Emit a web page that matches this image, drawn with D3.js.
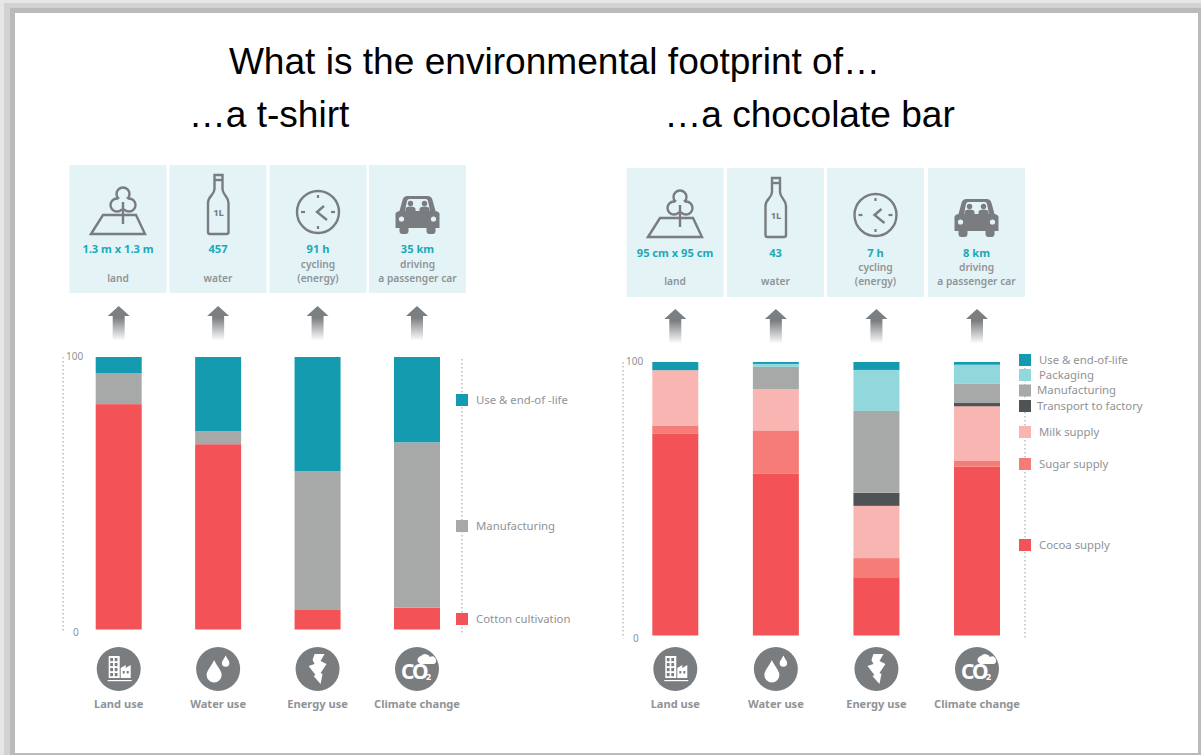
<!DOCTYPE html>
<html><head><meta charset="utf-8">
<script src="https://cdn.jsdelivr.net/npm/d3@7"></script>
<style>html,body{margin:0;padding:0;background:#fff}svg{display:block}text{font-family:"Noto Sans",sans-serif}</style>
</head><body><svg id="c" width="1201" height="755"></svg>
<script>
const impactCategories = ["Land use","Water use","Energy use","Climate change"];
const tshirtStages = ["Cotton cultivation","Manufacturing","Use & end-of -life"];
const tshirtCotton = [82.7,68,7.4,8];
const tshirtManufacturing = [11.4,4.8,50.7,60.7];
const tshirtUse = [5.9,27.2,41.9,31.3];
const barStages = ["Cocoa supply","Sugar supply","Milk supply","Transport to factory","Manufacturing","Packaging","Use & end-of-life"];
const barCocoa = [73.9,59.1,21.3,61.7];
const barSugar = [2.9,15.9,7,2.3];
const barMilk = [20.2,15,19.1,19.8];
const barTransport = [0,0,4.8,1.2];
const barManufacturing = [0,8.2,29.9,7];
const barPackaging = [0,1.1,15,7];
const barUse = [3,0.7,2.9,1];
const tshirtEquivalents = [["1.3 m x 1.3 m","","land"],["457","","water"],["91 h","cycling","(energy)"],["35 km","driving","a passenger car"]];
const barEquivalents = [["95 cm x 95 cm","","land"],["43","","water"],["7 h","cycling","(energy)"],["8 km","driving","a passenger car"]];
const axisTicks = [0,100];
const titleMain = "What is the environmental footprint of…";
const titleLeft = "…a t-shirt";
const titleRight = "…a chocolate bar";

const stageColors = {"Cotton cultivation":"#f35356","Cocoa supply":"#f35356","Sugar supply":"#f67c77","Milk supply":"#f8b5b1",
 "Transport to factory":"#505354","Manufacturing":"#a7a9a9","Packaging":"#92d7dc","Use & end-of -life":"#149baf","Use & end-of-life":"#149baf"};
const ICON="#7a7d7f", TXT="#909396", TEAL="#1ba9b8", PANEL="#e3f3f6";
const svg=d3.select("#c");
const defs=svg.append("defs");
const grad=defs.append("linearGradient").attr("id","arrowFade").attr("x1",0).attr("x2",0).attr("y1",0).attr("y2",1);
grad.append("stop").attr("offset","35%").attr("stop-color","#7c7f82");
grad.append("stop").attr("offset","100%").attr("stop-color","#7c7f82").attr("stop-opacity",0.03);

// frame shadow
[["#e6e6e6",0,0,1201,755],["#d2d2d2",4,3,1197,752],["#bababa",10,8,1191,747]].forEach(r=>
 svg.append("rect").attr("x",r[1]).attr("y",r[2]).attr("width",r[3]).attr("height",r[4]).attr("fill",r[0]));
svg.append("rect").attr("x",15).attr("y",13).attr("width",1183).attr("height",740).attr("fill","#fff");

const titleStyle=s=>s.attr("text-anchor","middle").style("font-family","'Liberation Sans'").style("font-size","37.1px").attr("fill","#000");
svg.append("text").attr("x",554.5).attr("y",74).call(titleStyle).text(titleMain);
svg.append("text").attr("x",269).attr("y",127).call(titleStyle).text(titleLeft);
svg.append("text").attr("x",809.5).attr("y",127).call(titleStyle).text(titleRight);

function treeIcon(g,b){
 g.append("path").attr("d",`M-27 ${b}L-15 ${b-19}H18L27 ${b}Z`).attr("fill","none").attr("stroke",ICON).attr("stroke-width",2.4);
 const t=g.append("g").attr("fill",PANEL).attr("stroke",ICON).attr("stroke-width",2.4);
 [[5,b-40,6.5],[-1,b-29,6.5],[11,b-29,6.5]].forEach(c=>t.append("circle").attr("cx",c[0]).attr("cy",c[1]).attr("r",c[2]));
 g.append("circle").attr("cx",5).attr("cy",b-31).attr("r",6).attr("fill",PANEL);
 g.append("line").attr("x1",5).attr("x2",5).attr("y1",b-32).attr("y2",b-10).attr("stroke",ICON).attr("stroke-width",2.4);
}
function bottleIcon(g,b){
 g.append("path").attr("d",`M-3.5 ${b-59}H4.5V${b-45}C4.5 ${b-39} 10.5 ${b-38} 10.5 ${b-31}V${b-2}Q10.5 ${b} 8.5 ${b}H-8Q-10 ${b} -10 ${b-2}V${b-31}C-10 ${b-38} -3.5 ${b-39} -3.5 ${b-45}Z`).attr("fill","none").attr("stroke",ICON).attr("stroke-width",2.4);
 g.append("line").attr("x1",-3.5).attr("x2",4.5).attr("y1",b-54).attr("y2",b-54).attr("stroke",ICON).attr("stroke-width",2.4);
 g.append("text").attr("y",b-18).attr("x",0.5).attr("text-anchor","middle").attr("fill",ICON).style("font-size","9.5px").style("font-weight",700).text("1L");
}
function clockIcon(g,b){
 const cy=b-22;
 g.append("circle").attr("cy",cy).attr("r",21).attr("fill","none").attr("stroke",ICON).attr("stroke-width",2.4);
 [[0,-17,0,-14],[0,14,0,17],[-17,0,-13,0],[13,0,17,0]].forEach(l=>g.append("line").attr("x1",l[0]).attr("y1",cy+l[1]).attr("x2",l[2]).attr("y2",cy+l[3]).attr("stroke",ICON).attr("stroke-width",2.2));
 g.append("path").attr("d",`M6 ${cy-6}L-1 ${cy}L9 ${cy+8}`).attr("fill","none").attr("stroke",ICON).attr("stroke-width",2.4);
}
function carIcon(g,b){
 g.append("path").attr("d",`M-22 ${b-6}V${b-20}Q-22 ${b-22} -18 ${b-23}L-15 ${b-34}Q-14 ${b-38} -10 ${b-38}H10Q14 ${b-38} 15 ${b-34}L18 ${b-23}Q22 ${b-22} 22 ${b-20}V${b-6}H18V${b-3}Q18 ${b} 15 ${b}H12Q9 ${b} 9 ${b-3}V${b-6}H-9V${b-3}Q-9 ${b} -12 ${b}H-15Q-18 ${b} -18 ${b-3}V${b-6}Z`).attr("fill",ICON);
 g.append("path").attr("d",`M-12.5 ${b-23}L-10.5 ${b-33}Q-10 ${b-35} -8 ${b-35}H8Q10 ${b-35} 10.5 ${b-33}L12.5 ${b-23}Z`).attr("fill",PANEL);
 [-7,7].forEach(x=>{
  g.append("circle").attr("cx",x).attr("cy",b-30.5).attr("r",2.7).attr("fill",ICON);
  g.append("path").attr("d",`M${x-5} ${b-23}V${b-25}Q${x-5} ${b-27.5} ${x} ${b-27.5}Q${x+5} ${b-27.5} ${x+5} ${b-25}V${b-23}Z`).attr("fill",ICON);
 });
 [-16,16].forEach(x=>g.append("circle").attr("cx",x).attr("cy",b-15).attr("r",2.6).attr("fill",PANEL));
}
const topIcons=[treeIcon,bottleIcon,clockIcon,carIcon];

function buildingIcon(g){
 g.append("rect").attr("x",-10).attr("y",-13).attr("width",11).attr("height",22).attr("fill","#fff");
 g.append("path").attr("d","M2 9V-1L7 -4V-1L12 -4V9Z").attr("fill","#fff");
 g.append("rect").attr("x",-11).attr("y",11).attr("width",24).attr("height",1.2).attr("fill","#fff");
 const w=g.append("g").attr("fill",ICON);
 for(let r=0;r<4;r++)for(let c=0;c<2;c++)w.append("rect").attr("x",-8.5+c*4.5).attr("y",-11+r*5).attr("width",2.8).attr("height",3.2);
 for(let c=0;c<2;c++)w.append("rect").attr("x",4+c*4).attr("y",2).attr("width",2).attr("height",2.5);
}
const drop=(x,y,h)=>`M${x} ${y-h}C${x+h*.2} ${y-h*.55} ${x+h*.5} ${y-h*.3} ${x+h*.5} ${y}A${h*.5} ${h*.5} 0 1 1 ${x-h*.5} ${y}C${x-h*.5} ${y-h*.3} ${x-h*.2} ${y-h*.55} ${x} ${y-h}Z`;
function dropIcon(g){
 g.append("path").attr("d",drop(-4,6,15)).attr("fill","#fff");
 g.append("path").attr("d",drop(7.5,-6,7.5)).attr("fill","#fff");
}
function boltIcon(g){
 g.append("path").attr("d","M-3 -15L7 -15L3 -8L9 -5L3 4L5 5L3 15L-4 7L-2 6L-9 -3L-3 -5L-5 -9Z").attr("fill","#fff");
}
function co2Icon(g){
 g.append("path").attr("d","M1 -7A4 4 0 0 1 4 -13A5.5 5.5 0 0 1 13 -12A4 4 0 0 1 17 -5H3Z").attr("fill","#fff");
 g.append("text").attr("x",-16).attr("y",10).attr("fill","#fff").style("font-size","21px").style("font-weight",700).style("letter-spacing","-2px").text("CO");
 g.append("text").attr("x",9).attr("y",11).attr("fill","#fff").style("font-size","9px").style("font-weight",700).text("2");
}
const roundIcons=[buildingIcon,dropIcon,boltIcon,co2Icon];

function chart(o){
 const x=d3.scalePoint().domain(impactCategories).range(o.xRange);
 const y=d3.scaleLinear().domain([0,100]).range(o.yRange);
 const rows=impactCategories.map((c,i)=>{const r={cat:c};o.series.forEach(s=>r[s.name]=s.values[i]);return r;});
 const stacked=d3.stack().keys(o.series.map(s=>s.name))(rows);

 // equivalence panels
 const p=svg.append("g").selectAll("g").data(impactCategories).join("g").attr("transform",(d,i)=>`translate(${o.panelX[i]},0)`);
 p.append("rect").attr("x",-48.5).attr("width",97).attr("y",o.panelY[0]).attr("height",o.panelY[1]-o.panelY[0]).attr("fill",PANEL);
 p.each(function(d,i){
  const g=d3.select(this);
  topIcons[i](g.append("g"),o.iconBase);
  o.equiv[i].forEach((t,k)=>{ if(!t) return;
   g.append("text").attr("text-anchor","middle").attr("y",o.textY[k]).attr("fill",k===0?TEAL:TXT)
    .style("font-size",k===0?"11.1px":"10.2px").style("font-weight",k===0?700:600).text(t);
  });
 });

 // arrows
 svg.append("g").selectAll("path").data(impactCategories).join("path")
  .attr("transform",d=>`translate(${x(d)},${o.arrowY})`)
  .attr("d","M0 0L11 10H6V34H-6V10H-11Z").attr("fill","url(#arrowFade)");

 // bars
 svg.append("g").selectAll("g").data(stacked).join("g").attr("fill",d=>stageColors[d.key])
  .selectAll("rect").data(d=>d).join("rect")
  .attr("x",d=>x(d.data.cat)-23).attr("width",46)
  .attr("y",d=>y(d[1])).attr("height",d=>y(d[0])-y(d[1]));

 // value axis
 const ax=svg.append("g").attr("transform",`translate(${o.axisX},0)`).call(d3.axisRight(y).tickValues(axisTicks).tickSize(0).tickPadding(3));
 ax.select(".domain").remove();
 ax.selectAll("text").attr("fill",TXT).style("font-size","10px").style("font-family","'Noto Sans'").attr("dy","0.32em")
   .attr("x",d=>d===0?10:3);
 ax.selectAll("text").attr("y",d=>d===0?3:-1);
 dotted(o.axisX,y(100),y(0)+3);

 // legend
 dotted(o.legendX,y(100)+2,y(0)+3);
 o.legend.forEach(l=>{
  svg.append("rect").attr("x",o.legendX-6).attr("y",l.y).attr("width",12).attr("height",12).attr("fill",stageColors[l.name]);
  svg.append("text").attr("x",o.legendX+(l.dx||14)).attr("y",l.y+9.5).attr("fill",TXT).style("font-size","11.35px").text(l.name);
 });

 // bottom icons
 const b=svg.append("g").selectAll("g").data(impactCategories).join("g").attr("transform",d=>`translate(${x(d)},0)`);
 b.append("circle").attr("cy",669).attr("r",22).attr("fill",ICON);
 b.each(function(d,i){roundIcons[i](d3.select(this).append("g").attr("transform","translate(0,669)"));});
 b.append("text").attr("y",708).attr("text-anchor","middle").attr("fill",TXT).style("font-size","11.1px").style("font-weight",700).text(d=>d);
}
function dotted(x,y0,y1){
 svg.append("line").attr("x1",x).attr("x2",x).attr("y1",y0).attr("y2",y1).attr("stroke","#a9abad").attr("stroke-width",1.2).attr("stroke-dasharray","1.5 2.5");
}

chart({xRange:[118.7,417],yRange:[629.5,357],series:[
  {name:tshirtStages[0],values:tshirtCotton},{name:tshirtStages[1],values:tshirtManufacturing},{name:tshirtStages[2],values:tshirtUse}],
 equiv:tshirtEquivalents,panelX:[118,218,318,417.5],panelY:[165,293],iconBase:234,textY:[253,268,282],
 arrowY:306,axisX:63,legendX:462,
 legend:[{name:tshirtStages[2],y:394},{name:tshirtStages[1],y:520},{name:tshirtStages[0],y:613}]});

chart({xRange:[675.3,977],yRange:[635.5,362],series:[
  {name:barStages[0],values:barCocoa},{name:barStages[1],values:barSugar},{name:barStages[2],values:barMilk},{name:barStages[3],values:barTransport},
  {name:barStages[4],values:barManufacturing},{name:barStages[5],values:barPackaging},{name:barStages[6],values:barUse}],
 equiv:barEquivalents,panelX:[675,775.5,875.5,976.5],panelY:[168,297],iconBase:237,textY:[257,271,285],
 arrowY:309,axisX:623,legendX:1025,
 legend:[{name:barStages[6],y:354},{name:barStages[5],y:369},{name:barStages[4],y:384.5,dx:12},{name:barStages[3],y:400,dx:12},
  {name:barStages[2],y:426},{name:barStages[1],y:458},{name:barStages[0],y:539}]});
</script></body></html>
